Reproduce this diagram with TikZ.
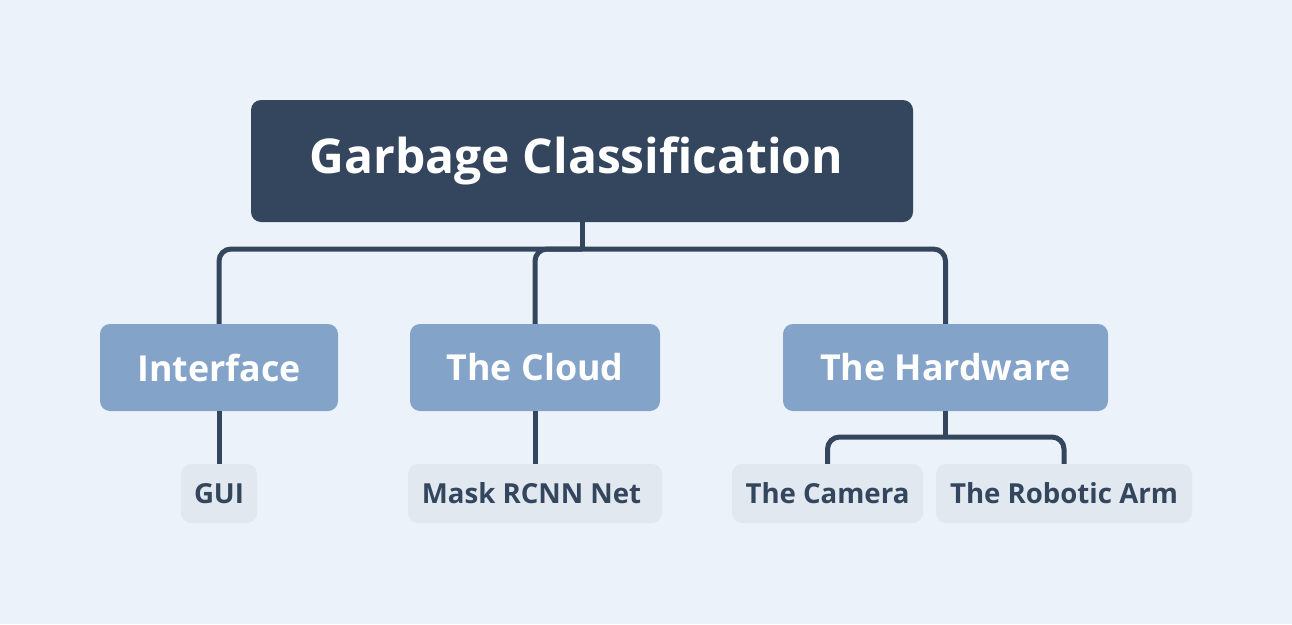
\documentclass[tikz,border=0pt]{standalone}
\usepackage{fontspec}
\setmainfont{Open Sans}
\definecolor{bgc}{HTML}{EBF2FA}
\definecolor{darkc}{HTML}{34465E}
\definecolor{midc}{HTML}{84A3C9}
\definecolor{leafc}{HTML}{E1E8F0}
\tikzset{
  rootbox/.style={fill=darkc, rounded corners=10pt, inner sep=0pt, text=white, font=\fontsize{48}{52}\selectfont\bfseries},
  midbox/.style={fill=midc, rounded corners=10pt, inner sep=0pt, text=white, minimum height=87pt, font=\fontsize{35.8}{40}\selectfont\bfseries},
  leafbox/.style={fill=leafc, rounded corners=10pt, inner sep=0pt, text=darkc, minimum height=59pt, font=\fontsize{27.6}{31}\selectfont\bfseries},
  conn/.style={draw=darkc, line width=5pt, rounded corners=12pt}
}
\begin{document}
\begin{tikzpicture}[x=1pt,y=-1pt]
\fill[bgc] (0,0) rectangle (1292,624);
\node[rootbox, minimum width=662pt, minimum height=122pt] (root) at (582,161) {Garbage Classification\kern11pt};
\node[midbox, minimum width=238pt] (if) at (219,367.5) {Interface};
\node[midbox, minimum width=250pt] (cloud) at (535,367.5) {The Cloud};
\node[midbox, minimum width=325pt] (hw) at (945.5,367.5) {The Hardware};
\node[leafbox, minimum width=76pt] (gui) at (219,493.5) {GUI};
\node[leafbox, minimum width=254pt] (mask) at (535,493.5) {Mask RCNN Net\kern7pt};
\node[leafbox, minimum width=191pt] (cam) at (827.5,493.5) {The Camera};
\node[leafbox, minimum width=256pt] (arm) at (1064,493.5) {The Robotic Arm};
\coordinate (bar) at (582,249);
\coordinate (hwbar) at (945.5,437);
\draw[conn] (root.south) -- (bar);
\draw[conn] (if.north) |- (bar) -| (hw.north);
\draw[conn] (cloud.north) |- (bar);
\draw[conn] (if.south) -- (gui.north);
\draw[conn] (cloud.south) -- (mask.north);
\draw[conn] (hw.south) -- (hwbar);
\draw[conn] (cam.north) |- (hwbar) -| (arm.north);
\end{tikzpicture}
\end{document}
